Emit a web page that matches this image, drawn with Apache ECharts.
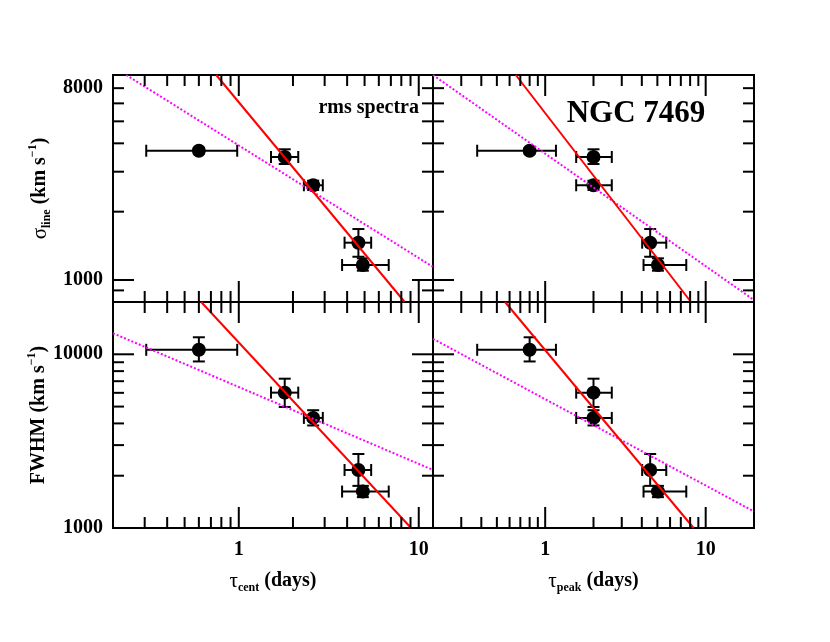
<!DOCTYPE html>
<html>
<head>
<meta charset="utf-8">
<title>NGC 7469 rms spectra</title>
<script src="https://cdn.jsdelivr.net/npm/echarts@6/dist/echarts.min.js"></script>
<style>
  html, body { margin: 0; padding: 0; background: #fff; }
  #chart { width: 830px; height: 642px; }
</style>
</head>
<body>
<div id="chart"></div>
<script>
// lags (days) with lower / upper bounds
const tauCent = [0.60, 1.80, 2.59, 4.62, 4.89]
const tauCentLo = [0.306, 1.51, 2.30, 3.87, 3.75]
const tauCentHi = [0.98, 2.14, 2.93, 5.44, 6.81]
const tauPeak = [0.80, 2.00, 2.00, 4.51, 5.04]
const tauPeakLo = [0.377, 1.56, 1.56, 4.02, 4.10]
const tauPeakHi = [1.167, 2.60, 2.60, 5.68, 7.57]

// line widths (km/s) with lower / upper bounds
const sigmaLine = [3711, 3483, 2614, 1460, 1164]
const sigmaLo = [3600, 3243, 2492, 1266, 1099]
const sigmaHi = [3820, 3765, 2738, 1677, 1246]
const fwhm = [10612, 6016, 4303, 2158, 1621]
const fwhmLo = [9094, 4975, 3893, 1748, 1505]
const fwhmHi = [12530, 7237, 4765, 2666, 1748]

// fitted relations, two end points each [x, y]
const redSigmaCent = [[0.749, 8000], [8.33, 802]]
const magSigmaCent = [[0.2368, 8000], [11.96, 1144]]
const redSigmaPeak = [[0.656, 8000], [8.1, 800]]
const magSigmaPeak = [[0.2, 8000], [20, 816]]
const redFwhmCent = [[0.618, 20000], [9.07, 1000]]
const magFwhmCent = [[0.2, 13210], [12, 2158]]
const redFwhmPeak = [[0.562, 20000], [8.41, 1000]]
const magFwhmPeak = [[0.2, 12270], [20, 1245]]

// ticks and tick labels
const lagMajorTicks = [1, 10]
const lagMinorTicks = [0.3, 0.4, 0.5, 0.6, 0.7, 0.8, 0.9, 2, 3, 4, 5, 6, 7, 8, 9]
const lagLabelValues = [1, 10]
const sigmaMajorTicks = [1000]
const sigmaMinorTicks = [900, 2000, 3000, 4000, 5000, 6000, 7000]
const sigmaLabelValues = [1000, 7000]
const sigmaLabelTexts = ['1000', '8000']
const fwhmMajorTicks = [10000]
const fwhmMinorTicks = [2000, 3000, 4000, 5000, 6000, 7000, 8000, 9000]
const fwhmLabelValues = [1000, 10000]
const fwhmLabelTexts = ['1000', '10000']

const FONT = '"Liberation Serif", "Times New Roman", serif'

const panels = [
  { x: tauCent, xLo: tauCentLo, xHi: tauCentHi, y: sigmaLine, yLo: sigmaLo, yHi: sigmaHi,
    xRange: [0.2, 12], yRange: [800, 8000], yMajor: sigmaMajorTicks, yMinor: sigmaMinorTicks,
    red: redSigmaCent, mag: magSigmaCent, box: { left: 113, top: 75, width: 320, height: 227 } },
  { x: tauPeak, xLo: tauPeakLo, xHi: tauPeakHi, y: sigmaLine, yLo: sigmaLo, yHi: sigmaHi,
    xRange: [0.2, 20], yRange: [800, 8000], yMajor: sigmaMajorTicks, yMinor: sigmaMinorTicks,
    red: redSigmaPeak, mag: magSigmaPeak, box: { left: 433, top: 75, width: 321, height: 227 } },
  { x: tauCent, xLo: tauCentLo, xHi: tauCentHi, y: fwhm, yLo: fwhmLo, yHi: fwhmHi,
    xRange: [0.2, 12], yRange: [1000, 20000], yMajor: fwhmMajorTicks, yMinor: fwhmMinorTicks,
    red: redFwhmCent, mag: magFwhmCent, box: { left: 113, top: 302, width: 320, height: 226 } },
  { x: tauPeak, xLo: tauPeakLo, xHi: tauPeakHi, y: fwhm, yLo: fwhmLo, yHi: fwhmHi,
    xRange: [0.2, 20], yRange: [1000, 20000], yMajor: fwhmMajorTicks, yMinor: fwhmMinorTicks,
    red: redFwhmPeak, mag: magFwhmPeak, box: { left: 433, top: 302, width: 321, height: 226 } }
]

const nameRich = {
  g: { fontFamily: FONT, fontSize: 21, fontWeight: 'normal', lineHeight: 26, color: '#000' },
  b: { fontFamily: FONT, fontSize: 20, fontWeight: 'bold', lineHeight: 26, color: '#000' },
  sub: { fontFamily: FONT, fontSize: 12, fontWeight: 'bold', lineHeight: 12, verticalAlign: 'bottom', color: '#000' },
  sup: { fontFamily: FONT, fontSize: 12, fontWeight: 'bold', lineHeight: 12, verticalAlign: 'top', color: '#000' }
}

function pickLabel (values, texts) {
  return function (v) {
    const i = values.findIndex(t => Math.abs(t - v) / t < 1e-6)
    return i >= 0 ? texts[i] : ''
  }
}

function renderTicks (params, api) {
  const cs = params.coordSys
  const p = api.coord([api.value(0), api.value(1)])
  const len = api.value(3) ? 21 : 11
  const st = { stroke: '#000', lineWidth: 2 }
  if (api.value(2) === 0) {
    const b = cs.y + cs.height
    return { type: 'group', children: [
      { type: 'line', shape: { x1: p[0], y1: b, x2: p[0], y2: b - len }, style: st },
      { type: 'line', shape: { x1: p[0], y1: cs.y, x2: p[0], y2: cs.y + len }, style: st }
    ] }
  }
  const r = cs.x + cs.width
  return { type: 'group', children: [
    { type: 'line', shape: { x1: cs.x, y1: p[1], x2: cs.x + len, y2: p[1] }, style: st },
    { type: 'line', shape: { x1: r, y1: p[1], x2: r - len, y2: p[1] }, style: st }
  ] }
}

function renderErrors (params, api) {
  const c = api.coord([api.value(0), api.value(1)])
  const l = api.coord([api.value(2), api.value(1)])
  const h = api.coord([api.value(3), api.value(1)])
  const lo = api.coord([api.value(0), api.value(4)])
  const hi = api.coord([api.value(0), api.value(5)])
  const cap = 6
  const st = { stroke: '#000', lineWidth: 2 }
  return { type: 'group', children: [
    { type: 'line', shape: { x1: l[0], y1: c[1], x2: h[0], y2: c[1] }, style: st },
    { type: 'line', shape: { x1: l[0], y1: c[1] - cap, x2: l[0], y2: c[1] + cap }, style: st },
    { type: 'line', shape: { x1: h[0], y1: c[1] - cap, x2: h[0], y2: c[1] + cap }, style: st },
    { type: 'line', shape: { x1: c[0], y1: lo[1], x2: c[0], y2: hi[1] }, style: st },
    { type: 'line', shape: { x1: c[0] - cap, y1: lo[1], x2: c[0] + cap, y2: lo[1] }, style: st },
    { type: 'line', shape: { x1: c[0] - cap, y1: hi[1], x2: c[0] + cap, y2: hi[1] }, style: st }
  ] }
}

const grids = []
const xAxes = []
const yAxes = []
const series = []

panels.forEach((p, i) => {
  const bottom = i >= 2
  const left = i % 2 === 0
  grids.push(Object.assign({ show: true, borderColor: '#000', borderWidth: 2, backgroundColor: 'transparent', outerBoundsMode: 'none' }, p.box))

  xAxes.push({
    type: 'log', logBase: 10, gridIndex: i, min: p.xRange[0], max: p.xRange[1], position: 'bottom',
    axisLine: { show: false }, axisTick: { show: false }, splitLine: { show: false }, minorTick: { show: false },
    axisLabel: {
      show: bottom, customValues: lagLabelValues, margin: 12, color: '#000',
      fontFamily: FONT, fontSize: 20, fontWeight: 'bold',
      formatter: v => String(Math.round(v))
    },
    name: bottom ? (i === 2 ? '{g|τ}{sub|cent}{b| (days)}' : '{g|τ}{sub|peak}{b| (days)}') : '',
    nameLocation: 'middle', nameGap: 40,
    nameTextStyle: { color: '#000', fontFamily: FONT, fontSize: 20, fontWeight: 'bold', rich: nameRich }
  })

  const labVals = bottom ? fwhmLabelValues : sigmaLabelValues
  const labTexts = bottom ? fwhmLabelTexts : sigmaLabelTexts
  yAxes.push({
    type: 'log', logBase: 10, gridIndex: i, min: p.yRange[0], max: p.yRange[1], position: 'left',
    axisLine: { show: false }, axisTick: { show: false }, splitLine: { show: false }, minorTick: { show: false },
    axisLabel: {
      show: left, customValues: labVals, margin: 10, color: '#000',
      fontFamily: FONT, fontSize: 20, fontWeight: 'bold',
      formatter: pickLabel(labVals, labTexts)
    },
    name: left ? (bottom ? '{b|FWHM (km s}{sup|−1}{b|)}' : '{g|σ}{sub|line}{b| (km s}{sup|−1}{b|)}') : '',
    nameLocation: 'middle', nameRotate: 90, nameGap: 60,
    nameTextStyle: { color: '#000', fontFamily: FONT, fontSize: 20, fontWeight: 'bold', rich: nameRich }
  })

  const tickData = []
  lagMajorTicks.forEach(t => tickData.push([t, p.yRange[0], 0, 1]))
  lagMinorTicks.forEach(t => tickData.push([t, p.yRange[0], 0, 0]))
  p.yMajor.forEach(t => tickData.push([p.xRange[0], t, 1, 1]))
  p.yMinor.forEach(t => tickData.push([p.xRange[0], t, 1, 0]))

  series.push({
    type: 'custom', xAxisIndex: i, yAxisIndex: i, z: 6, silent: true,
    renderItem: renderTicks, data: tickData
  })
  series.push({
    type: 'custom', xAxisIndex: i, yAxisIndex: i, z: 2, silent: true,
    renderItem: renderErrors,
    data: p.x.map((v, k) => [v, p.y[k], p.xLo[k], p.xHi[k], p.yLo[k], p.yHi[k]])
  })
  series.push({
    type: 'scatter', xAxisIndex: i, yAxisIndex: i, z: 3,
    symbol: 'circle', symbolSize: 14, itemStyle: { color: '#000', opacity: 1 },
    data: p.x.map((v, k) => [v, p.y[k]])
  })
  series.push({
    type: 'line', xAxisIndex: i, yAxisIndex: i, z: 4, showSymbol: false, symbol: 'none',
    lineStyle: { color: '#ff00ff', width: 2, type: [2, 2] }, data: p.mag
  })
  series.push({
    type: 'line', xAxisIndex: i, yAxisIndex: i, z: 5, showSymbol: false, symbol: 'none',
    lineStyle: { color: '#ff0000', width: 2 }, data: p.red
  })
})

const chart = echarts.init(document.getElementById('chart'), null, { renderer: 'canvas' })
chart.setOption({
  backgroundColor: '#fff',
  animation: false,
  grid: grids,
  xAxis: xAxes,
  yAxis: yAxes,
  series: series,
  graphic: [
    { type: 'text', x: 419, y: 108, z: 10,
      style: { text: 'rms spectra', fill: '#000', font: 'bold 20px ' + FONT, textAlign: 'right', textVerticalAlign: 'middle' } },
    { type: 'text', x: 636, y: 114, z: 10,
      style: { text: 'NGC 7469', fill: '#000', font: 'bold 31px ' + FONT, textAlign: 'center', textVerticalAlign: 'middle' } }
  ]
})
</script>
</body>
</html>
